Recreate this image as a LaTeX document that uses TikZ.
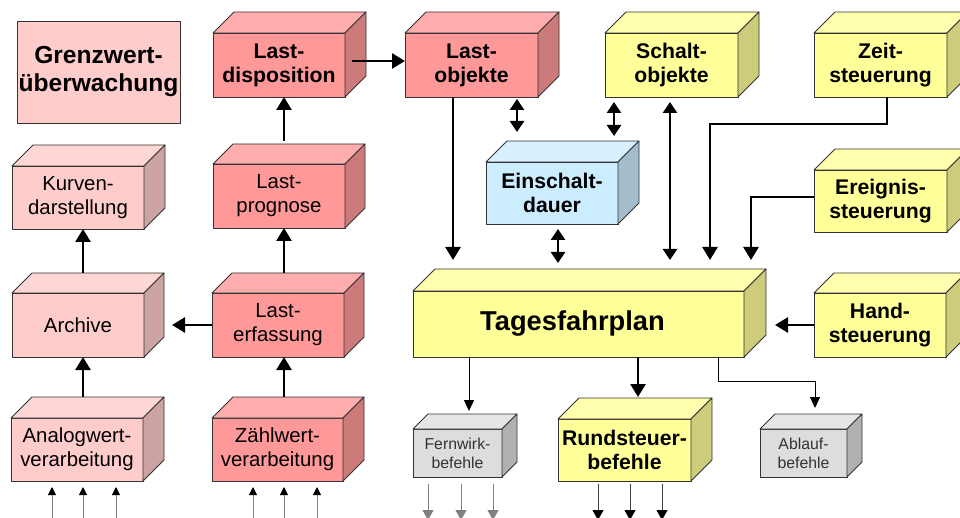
\documentclass[tikz,border=0pt]{standalone}
\usepackage{fontspec}
\setmainfont{Liberation Sans}
\usetikzlibrary{arrows.meta}
\definecolor{bordc}{HTML}{333333}
\definecolor{pinkF}{HTML}{FFCCCC}\definecolor{pinkT}{HTML}{FFD6D6}\definecolor{pinkS}{HTML}{CCA3A3}
\definecolor{redF}{HTML}{FF9999}\definecolor{redT}{HTML}{FFADAD}\definecolor{redS}{HTML}{CC7A7A}
\definecolor{yelF}{HTML}{FFFF99}\definecolor{yelT}{HTML}{FFFFAD}\definecolor{yelS}{HTML}{CCCC7A}
\definecolor{bluF}{HTML}{CCECFF}\definecolor{bluT}{HTML}{D6F0FF}\definecolor{bluS}{HTML}{A3BDCC}
\definecolor{gryF}{HTML}{DDDDDD}\definecolor{gryT}{HTML}{E6E6E6}\definecolor{gryS}{HTML}{B1B1B1}
\definecolor{txtgray}{HTML}{333333}
\newcommand\cubeb[9]{%
  \node[box, fill=#7F, #8, minimum width={#4-#2}, minimum height={#5-#3}] (#1) at ({(#2+#4)/2},{(#3+#5)/2}) {#9};
  \filldraw[face, fill=#7T] (#1.north west) -- ++(#6,-#6) -- ++({#4-#2},0) -- (#1.north east) -- cycle;
  \filldraw[face, fill=#7S] (#1.north east) -- ++(#6,-#6) -- ++(0,{#5-#3}) -- (#1.south east) -- cycle;
}
\tikzset{
  face/.style={draw=bordc, line width=0.8pt, line join=round},
  box/.style={face, rectangle, inner sep=0pt, outer sep=0pt, align=center, text=black},
  fb/.style={font=\fontsize{21.2}{24}\selectfont\bfseries},
  fr/.style={font=\fontsize{20.4}{24}\selectfont},
  fs/.style={font=\fontsize{15.8}{19}\selectfont, text=txtgray},
  thk/.style={line width=2.6pt, -{Triangle[length=13pt,width=15pt]}},
  thkboth/.style={line width=2.6pt, {Triangle[length=11pt,width=14pt]}-{Triangle[length=11pt,width=14pt]}},
  thn/.style={line width=1pt, -{Triangle[length=11pt,width=10pt]}},
  inp/.style={line width=1pt, draw=gray, -{Triangle[length=8pt,width=8pt,color=black]}},
  outg/.style={line width=1pt, draw=gray, -{Triangle[length=10pt,width=11pt,color=gray]}},
  outb/.style={line width=1pt, draw=black!75, -{Triangle[length=10pt,width=11pt,color=black]}},
}
\begin{document}
\begin{tikzpicture}[x=1pt,y=-1pt]
\clip (0,0) rectangle (960,518);
\fill[white] (0,0) rectangle (960,518);
% flat box
\node[box, fill=pinkF, minimum width=163, minimum height=102, font=\fontsize{24.6}{28}\selectfont\bfseries] (grenz) at (98.5,72) {Grenzwert-\\überwachung};
% left column
\cubeb{kurv}{12}{166}{144}{229}{21}{pink}{fr}{Kurven-\\darstellung}
\cubeb{arch}{12}{293}{144}{357}{20}{pink}{fr}{Archive}
\cubeb{ana}{11}{418}{143}{481}{21}{pink}{fr}{Analogwert-\\verarbeitung}
% second column
\cubeb{ldisp}{213}{33}{345}{97}{21}{red}{fb}{Last-\\disposition}
\cubeb{lprog}{213}{164}{345}{228}{20}{red}{fr}{Last-\\prognose}
\cubeb{lerf}{212}{293}{344}{357}{20}{red}{fr}{Last-\\erfassung}
\cubeb{zahl}{212}{418}{343}{481}{21}{red}{fr}{Zählwert-\\verarbeitung}
% top row right
\cubeb{lobj}{405}{33}{538}{97}{21}{red}{fb}{Last-\\objekte}
\cubeb{schalt}{605}{33}{738}{97}{21}{yel}{fb}{Schalt-\\objekte}
\cubeb{zeit}{814}{33}{947}{97}{21}{yel}{fb}{Zeit-\\steuerung}
\cubeb{eins}{486}{162}{618}{224}{21}{blu}{fb}{Einschalt-\\dauer}
\cubeb{ereig}{814}{170}{947}{232}{21}{yel}{fb}{Ereignis-\\steuerung}
\cubeb{tag}{413}{291}{744}{357}{22}{yel}{font=\fontsize{27.3}{30}\selectfont\bfseries}{\hspace*{-12pt}Tagesfahrplan}
\cubeb{hand}{814}{293}{946}{357}{20}{yel}{fb}{Hand-\\steuerung}
\cubeb{fern}{413}{429}{502}{477}{15}{gry}{fs}{Fernwirk-\\befehle}
\cubeb{rund}{558}{419}{691}{481}{21}{yel}{fb}{Rundsteuer-\\befehle}
\cubeb{abl}{760}{429}{847}{477}{15}{gry}{fs}{Ablauf-\\befehle}
% left connectors
\draw[thk] ([xshift=5pt,yshift=20pt]arch.north) -- ([xshift=5pt]kurv.south);
\draw[thk] ([xshift=6pt,yshift=21pt]ana.north) -- ([xshift=5pt]arch.south);
\draw[thk] ([xshift=6.5pt,yshift=21pt]zahl.north) -- ([xshift=6pt]lerf.south);
\draw[thk] ([xshift=6pt,yshift=20pt]lerf.north) -- ([xshift=5pt]lprog.south);
\draw[thk] ([xshift=5pt,yshift=23pt]lprog.north) -- ([xshift=5pt]ldisp.south);
\draw[thk] (lerf.west) -- ([xshift=28pt]arch.east);
\draw[thk] ([xshift=7pt,yshift=4pt]ldisp.east) coordinate (dd) -- (dd -| lobj.west);
% inputs
\foreach \s in {-25,6,39}
  \draw[inp] ([xshift=\s pt,yshift=-39pt]ana.south) -- ([xshift=\s pt,yshift=-6pt]ana.south);
\foreach \s in {-24.5,6.5,39.5}
  \draw[inp] ([xshift=\s pt,yshift=-39pt]zahl.south) -- ([xshift=\s pt,yshift=-6pt]zahl.south);
% middle connectors
\draw[thkboth] ([xshift=45.5pt,yshift=-2pt]lobj.south) -- ([xshift=-35pt,yshift=30pt]eins.north);
\draw[thkboth] ([xshift=-57.5pt,yshift=-5pt]schalt.south) -- ([xshift=62pt,yshift=26pt]eins.north);
\draw[thkboth] ([xshift=6pt,yshift=-5pt]eins.south) -- ([xshift=-20.5pt,yshift=28pt]tag.north);
\draw[thkboth] ([xshift=-1.5pt,yshift=-5pt]schalt.south) -- ([xshift=91.5pt,yshift=31pt]tag.north);
\draw[thk] ([xshift=-18.5pt]lobj.south) -- ([xshift=-125.5pt,yshift=31pt]tag.north);
\coordinate (zt) at ([xshift=131.5pt,yshift=31pt]tag.north);
\draw[thk] ([xshift=6.5pt]zeit.south) -- ++(0,27) -| (zt);
\coordinate (et) at ([xshift=172.5pt,yshift=31pt]tag.north);
\draw[thk] ([yshift=4pt]ereig.west) -| (et);
\draw[thk] (hand.west) -- ([xshift=-39pt]hand.west);
% outputs of Tagesfahrplan
\draw[thn] ([xshift=-109.5pt]tag.south) -- ([xshift=11.5pt,yshift=18pt]fern.north);
\draw[thk] ([xshift=59.5pt]tag.south) -- ([xshift=13.5pt,yshift=22pt]rund.north);
\draw[thn, line width=0.9pt] ([xshift=139.5pt]tag.south) -- ++(0,24) -| ([xshift=11.5pt,yshift=21pt]abl.north);
\foreach \s in {-29.5,3.5,35.5}
  \draw[outg] ([xshift=\s pt,yshift=-7pt]fern.south) -- ([xshift=\s pt,yshift=-43pt]fern.south);
\foreach \s in {-26.5,5.5,37.5}
  \draw[outb] ([xshift=\s pt,yshift=-3pt]rund.south) -- ([xshift=\s pt,yshift=-39pt]rund.south);
\end{tikzpicture}
\end{document}
